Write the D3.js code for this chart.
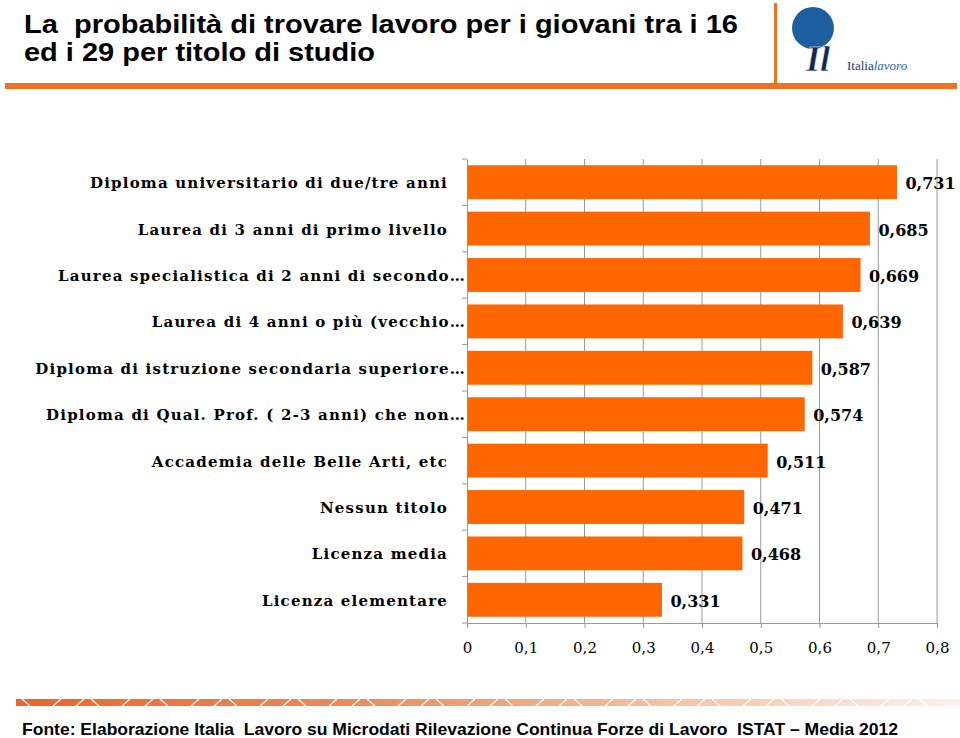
<!DOCTYPE html>
<html><head><meta charset="utf-8">
<script src="https://cdn.jsdelivr.net/npm/d3@7"></script>
<style>body{margin:0;background:#fff;}svg{display:block;} text{white-space:pre;}</style>
</head><body>
<svg id="c" width="960" height="738"></svg>
<script>
const categories = [
  "Diploma universitario di due/tre anni",
  "Laurea di 3 anni di primo livello",
  "Laurea specialistica di 2 anni di secondo…",
  "Laurea di 4 anni o più (vecchio…",
  "Diploma di istruzione secondaria superiore…",
  "Diploma di Qual. Prof. ( 2-3 anni) che non…",
  "Accademia delle Belle Arti, etc",
  "Nessun titolo",
  "Licenza media",
  "Licenza elementare"
];
const values = [0.731, 0.685, 0.669, 0.639, 0.587, 0.574, 0.511, 0.471, 0.468, 0.331];
const tickValues = [0, 0.1, 0.2, 0.3, 0.4, 0.5, 0.6, 0.7, 0.8];
const titleLines = ["La  probabilità di trovare lavoro per i giovani tra i 16", "ed i 29 per titolo di studio"];
const titleWidths = [714, 351];
const sourceText = "Fonte: Elaborazione Italia  Lavoro su Microdati Rilevazione Continua Forze di Lavoro  ISTAT – Media 2012";

const svg = d3.select("#c");
const orange = "#F36F21";
const fmt = v => d3.format(".3f")(v).replace(".", ",");
const fmtTick = v => v === 0 ? "0" : d3.format(".1f")(v).replace(".", ",");

// Title
svg.append("g").selectAll("text").data(titleLines).join("text")
  .attr("x", 24).attr("y", (d, i) => 33 + i * 28)
  .attr("font-family", "Liberation Sans, Arial, sans-serif")
  .attr("font-weight", "bold").attr("font-size", 26).attr("fill", "#000")
  .attr("textLength", (d, i) => titleWidths[i]).attr("lengthAdjust", "spacingAndGlyphs")
  .text(d => d);

// header lines
svg.append("rect").attr("x", 5).attr("y", 83).attr("width", 952).attr("height", 6).attr("fill", orange);
svg.append("rect").attr("x", 774).attr("y", 3).attr("width", 3).attr("height", 84).attr("fill", orange);

// Logo
const logo = svg.append("g");
logo.append("circle").attr("cx", 813).attr("cy", 28).attr("r", 21).attr("fill", "#1D5F9E");
logo.append("text").attr("x", 806).attr("y", 71)
  .attr("font-family", "Liberation Serif, serif").attr("font-size", 36).attr("font-weight", "bold")
  .attr("font-style", "italic")
  .attr("fill", "#10284e").attr("stroke", "#fff").attr("stroke-width", 0.5)
  .text("Il");
const lt = logo.append("text").attr("x", 847).attr("y", 70)
  .attr("font-family", "Liberation Serif, serif").attr("font-size", 13).attr("fill", "#1a3a6a");
lt.append("tspan").text("Italia");
lt.append("tspan").attr("font-style", "italic").attr("fill", "#2a6ab0").text("lavoro");

// Chart
const x = d3.scaleLinear().domain([0, 0.8]).range([467, 937]);
const y = d3.scaleBand().domain(categories).range([159, 623]).paddingInner(0.27).paddingOuter(0.135);
const gridColor = "#9a9a9a";

svg.append("g").selectAll("line").data(tickValues.slice(1)).join("line")
  .attr("x1", d => x(d)).attr("x2", d => x(d)).attr("y1", 159).attr("y2", 623)
  .attr("stroke", gridColor).attr("stroke-width", 1);

// x axis
const xAxis = svg.append("g").attr("transform", "translate(0,623)")
  .call(d3.axisBottom(x).tickValues(tickValues).tickFormat(fmtTick).tickSize(5).tickSizeOuter(0));
xAxis.select(".domain").attr("stroke", gridColor);
xAxis.selectAll(".tick line").attr("stroke", gridColor);
xAxis.selectAll(".tick text").attr("font-family", "DejaVu Serif, serif").attr("font-size", 15)
  .attr("fill", "#000").attr("dy", null).attr("y", 30);

// y axis
const yAxis = svg.append("g").attr("transform", "translate(467,0)")
  .call(d3.axisLeft(y).tickSize(0).tickFormat(""));
yAxis.select(".domain").attr("stroke", gridColor);
const bounds = d3.range(categories.length + 1).map(i => y.range()[0] + i * y.step());
svg.append("g").selectAll("line").data(bounds).join("line")
  .attr("x1", 462).attr("x2", 467).attr("y1", d => d).attr("y2", d => d)
  .attr("stroke", gridColor);

// bars
svg.append("g").selectAll("rect").data(values).join("rect")
  .attr("x", x(0) + 0.5).attr("y", (d, i) => y(categories[i]))
  .attr("width", d => x(d) - x(0)).attr("height", y.bandwidth())
  .attr("fill", "#FF6600");

// value labels
svg.append("g").selectAll("text").data(values).join("text")
  .attr("x", d => x(d) + 9).attr("y", (d, i) => y(categories[i]) + y.bandwidth() / 2 + 7)
  .attr("font-family", "DejaVu Serif, serif").attr("font-weight", "bold").attr("font-size", 16)
  .attr("fill", "#000").text(d => fmt(d));

// category labels
svg.append("g").selectAll("text").data(categories).join("text")
  .attr("x", d => d.endsWith("…") ? 466 : 448)
  .attr("y", d => y(d) + y.bandwidth() / 2 + 6)
  .attr("text-anchor", "end")
  .attr("font-family", "DejaVu Serif, serif").attr("font-weight", "bold").attr("font-size", 15)
  .attr("letter-spacing", 1.2).attr("fill", "#000").text(d => d);

// footer stripe
const defs = svg.append("defs");
const grad = defs.append("linearGradient").attr("id", "fade");
grad.append("stop").attr("offset", "0%").attr("stop-color", "#E8672A");
grad.append("stop").attr("offset", "35%").attr("stop-color", "#EE8A55");
grad.append("stop").attr("offset", "70%").attr("stop-color", "#F6C3A3");
grad.append("stop").attr("offset", "100%").attr("stop-color", "#FDF1EA");
svg.append("rect").attr("x", 16).attr("y", 699).attr("width", 944).attr("height", 7).attr("fill", "url(#fade)");
const slashes = d3.range(30, 950, 23);
svg.append("g").selectAll("line").data(slashes).join("line")
  .attr("x1", d => d).attr("x2", (d, i) => d + (i % 3 === 0 ? -8 : 8)).attr("y1", 706).attr("y2", 699)
  .attr("stroke", "#fff").attr("stroke-width", 1.2);

// source
svg.append("text").attr("x", 22).attr("y", 735)
  .attr("font-family", "Liberation Sans Narrow, Arial Narrow, Liberation Sans, sans-serif")
  .attr("font-weight", "bold").attr("font-size", 17).attr("fill", "#000")
  .attr("textLength", 876).attr("lengthAdjust", "spacingAndGlyphs")
  .text(sourceText);
</script>
</body></html>
